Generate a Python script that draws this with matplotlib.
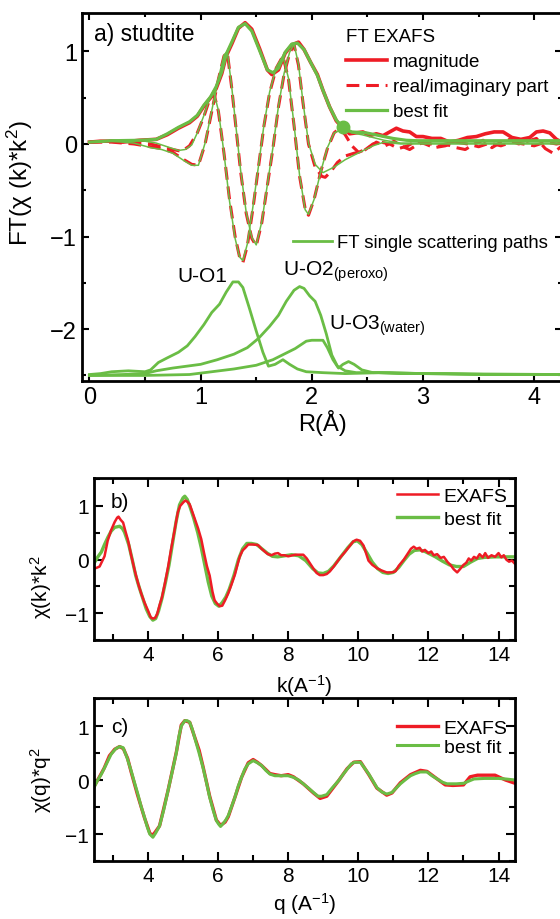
import matplotlib
matplotlib.use("Agg")
import matplotlib.pyplot as plt
from matplotlib.lines import Line2D
from matplotlib.ticker import MultipleLocator

plt.rcParams['font.family'] = ['Liberation Sans', 'DejaVu Sans']
plt.rcParams['mathtext.fontset'] = 'custom'
plt.rcParams['mathtext.rm'] = 'Liberation Sans'
plt.rcParams['mathtext.it'] = 'Liberation Sans:italic'

RED = '#ee1c25'
GREEN = '#6abd45'

# ---- panel a: FT EXAFS (R in Angstrom) ----
mag_data = [(0.0, 0.02), (0.1, 0.03), (0.2, 0.03), (0.3, 0.02), (0.45, 0.04), (0.6, 0.05),
            (0.7, 0.10), (0.8, 0.17), (0.9, 0.23), (0.97, 0.30), (1.03, 0.41), (1.09, 0.50),
            (1.14, 0.60), (1.19, 0.76), (1.23, 0.95), (1.28, 1.08), (1.34, 1.25), (1.40, 1.31),
            (1.46, 1.24), (1.53, 1.03), (1.60, 0.80), (1.64, 0.75), (1.70, 0.80), (1.76, 0.98),
            (1.82, 1.07), (1.88, 1.10), (1.93, 1.02), (1.99, 0.88), (2.05, 0.75), (2.10, 0.58),
            (2.16, 0.40), (2.22, 0.25), (2.28, 0.17), (2.34, 0.11), (2.40, 0.12), (2.46, 0.13),
            (2.52, 0.09), (2.58, 0.11), (2.64, 0.09), (2.70, 0.13), (2.76, 0.17), (2.82, 0.14),
            (2.88, 0.13), (2.94, 0.08), (3.00, 0.08), (3.08, 0.06), (3.16, 0.06), (3.24, 0.02),
            (3.32, 0.04), (3.40, 0.07), (3.48, 0.08), (3.56, 0.11), (3.64, 0.13), (3.72, 0.13),
            (3.80, 0.07), (3.88, 0.05), (3.96, 0.07), (4.02, 0.13), (4.08, 0.14), (4.14, 0.12),
            (4.20, 0.05), (4.25, 0.02)]
mag_fit = [(0.0, 0.02), (0.2, 0.035), (0.45, 0.04), (0.6, 0.05), (0.7, 0.11), (0.8, 0.18),
           (0.9, 0.24), (0.97, 0.31), (1.03, 0.42), (1.09, 0.51), (1.14, 0.62), (1.19, 0.78),
           (1.23, 0.97), (1.28, 1.10), (1.34, 1.26), (1.40, 1.30), (1.46, 1.22), (1.53, 1.01),
           (1.60, 0.80), (1.65, 0.77), (1.70, 0.82), (1.76, 0.99), (1.82, 1.08), (1.87, 1.09),
           (1.93, 1.02), (1.99, 0.88), (2.05, 0.74), (2.10, 0.58), (2.16, 0.40), (2.22, 0.26),
           (2.28, 0.17), (2.36, 0.13), (2.49, 0.12), (2.61, 0.09), (2.73, 0.06), (2.85, 0.04),
           (2.95, 0.035), (4.25, 0.035)]

# real / imaginary parts (data, red dashed) and their fits (thin green)
re_data = [(0.0, 0.02), (0.2, 0.03), (0.4, 0.02), (0.55, 0.0), (0.65, -0.03), (0.75, -0.06),
           (0.83, -0.08), (0.90, -0.02), (0.97, 0.12), (1.03, 0.30), (1.08, 0.48), (1.12, 0.54),
           (1.16, 0.35), (1.21, -0.10), (1.26, -0.60), (1.31, -1.00), (1.35, -1.22), (1.38, -1.28),
           (1.42, -1.10), (1.47, -0.70), (1.52, -0.25), (1.57, 0.20), (1.62, 0.55), (1.68, 0.82),
           (1.74, 0.95), (1.79, 0.70), (1.84, 0.20), (1.89, -0.35), (1.94, -0.70), (1.97, -0.77),
           (2.02, -0.60), (2.08, -0.30), (2.14, -0.05), (2.20, 0.12), (2.25, 0.17), (2.30, 0.10),
           (2.36, -0.02), (2.42, -0.09), (2.50, -0.05), (2.58, 0.02), (2.66, -0.02), (2.74, 0.03),
           (2.82, -0.03), (2.88, -0.06), (2.96, 0.0), (3.04, 0.02), (3.12, -0.03), (3.20, 0.0),
           (3.30, -0.04), (3.38, -0.06), (3.46, 0.0), (3.54, 0.04), (3.62, -0.04), (3.70, 0.02),
           (3.78, 0.05), (3.86, 0.0), (3.94, 0.03), (4.02, 0.06), (4.10, -0.05), (4.17, -0.10),
           (4.25, -0.02)]
re_fit = [(0.0, 0.02), (0.2, 0.04), (0.45, 0.04), (0.6, 0.01), (0.70, -0.03), (0.80, -0.07),
          (0.86, -0.06), (0.92, -0.01), (0.97, 0.12), (1.03, 0.31), (1.08, 0.49), (1.12, 0.55),
          (1.16, 0.36), (1.21, -0.10), (1.26, -0.62), (1.31, -1.02), (1.35, -1.22), (1.38, -1.26),
          (1.42, -1.08), (1.47, -0.68), (1.52, -0.24), (1.57, 0.21), (1.62, 0.56), (1.68, 0.83),
          (1.74, 0.95), (1.79, 0.71), (1.84, 0.21), (1.89, -0.34), (1.94, -0.71), (1.97, -0.76),
          (2.02, -0.60), (2.08, -0.30), (2.14, -0.04), (2.20, 0.12), (2.28, 0.16), (2.36, 0.12),
          (2.45, 0.10), (2.55, 0.07), (2.65, 0.04), (2.80, 0.01), (4.25, 0.01)]
im_data = [(0.0, 0.02), (0.2, 0.02), (0.4, 0.0), (0.55, -0.03), (0.65, -0.05), (0.75, -0.09),
           (0.85, -0.17), (0.92, -0.22), (0.98, -0.23), (1.04, 0.0), (1.10, 0.35), (1.16, 0.70),
           (1.21, 0.95), (1.24, 0.99), (1.28, 0.60), (1.32, 0.15), (1.36, -0.30), (1.41, -0.75),
           (1.46, -1.02), (1.50, -1.10), (1.55, -0.85), (1.60, -0.45), (1.65, -0.05), (1.70, 0.40),
           (1.75, 0.75), (1.80, 0.98), (1.84, 1.07), (1.88, 0.85), (1.92, 0.45), (1.97, 0.0),
           (2.03, -0.25), (2.09, -0.35), (2.12, -0.36), (2.17, -0.30), (2.23, -0.20), (2.30, -0.13),
           (2.38, -0.10), (2.46, -0.08), (2.55, 0.0), (2.62, 0.02), (2.70, 0.0), (2.78, -0.05),
           (2.86, -0.02), (2.94, 0.03), (3.02, 0.0), (3.10, -0.04), (3.20, -0.02), (3.30, 0.02),
           (3.40, 0.0), (3.50, -0.03), (3.60, 0.01), (3.70, -0.02), (3.80, 0.02), (3.90, 0.0),
           (4.00, -0.02), (4.10, 0.02), (4.20, 0.0), (4.25, 0.01)]
im_fit = [(0.0, 0.02), (0.2, 0.03), (0.4, 0.01), (0.55, -0.04), (0.65, -0.06), (0.75, -0.10),
          (0.85, -0.18), (0.92, -0.23), (0.98, -0.23), (1.04, 0.01), (1.10, 0.36), (1.16, 0.71),
          (1.21, 0.96), (1.24, 1.00), (1.28, 0.61), (1.32, 0.16), (1.36, -0.29), (1.41, -0.74),
          (1.46, -1.01), (1.50, -1.09), (1.55, -0.84), (1.60, -0.44), (1.65, -0.04), (1.70, 0.41),
          (1.75, 0.76), (1.80, 0.99), (1.84, 1.08), (1.88, 0.86), (1.92, 0.46), (1.97, 0.01),
          (2.03, -0.22), (2.10, -0.31), (2.20, -0.25), (2.30, -0.17), (2.43, -0.09), (2.55, -0.02),
          (2.65, 0.02), (2.80, 0.0), (4.25, 0.0)]
dot_r = [2.28]
dot_y = [0.18]

# single scattering paths (drawn with the -2.5 offset used in the figure)
path_o1 = [(0.0, -2.49), (0.1, -2.48), (0.2, -2.46), (0.35, -2.45), (0.5, -2.46), (0.55, -2.44),
           (0.62, -2.36), (0.7, -2.31), (0.8, -2.25), (0.88, -2.18), (0.95, -2.08), (1.03, -1.95),
           (1.10, -1.82), (1.17, -1.73), (1.23, -1.60), (1.29, -1.49), (1.34, -1.49), (1.38, -1.55),
           (1.44, -1.78), (1.50, -2.02), (1.56, -2.25), (1.61, -2.40), (1.67, -2.38), (1.74, -2.33),
           (1.80, -2.38), (1.87, -2.43), (1.95, -2.46), (2.10, -2.47), (2.30, -2.48), (2.60, -2.47),
           (2.80, -2.48), (3.20, -2.48), (3.60, -2.49), (4.25, -2.49)]
path_o2 = [(0.0, -2.50), (0.3, -2.49), (0.5, -2.48), (0.6, -2.45), (0.75, -2.42), (1.0, -2.38),
           (1.15, -2.33), (1.30, -2.27), (1.42, -2.20), (1.52, -2.10), (1.62, -1.97), (1.70, -1.85),
           (1.77, -1.70), (1.84, -1.58), (1.89, -1.54), (1.93, -1.56), (1.98, -1.64), (2.03, -1.70),
           (2.08, -1.85), (2.13, -2.05), (2.18, -2.28), (2.23, -2.40), (2.30, -2.45), (2.40, -2.47),
           (2.60, -2.47), (3.0, -2.48), (4.25, -2.49)]
path_o3 = [(0.0, -2.50), (0.5, -2.50), (0.9, -2.49), (1.1, -2.46), (1.3, -2.43), (1.5, -2.39),
           (1.65, -2.33), (1.75, -2.27), (1.85, -2.21), (1.95, -2.13), (2.0, -2.12), (2.1, -2.12),
           (2.14, -2.20), (2.19, -2.33), (2.24, -2.42), (2.28, -2.38), (2.33, -2.35), (2.38, -2.38),
           (2.45, -2.44), (2.55, -2.47), (2.7, -2.47), (3.0, -2.48), (3.5, -2.49), (4.25, -2.49)]

# ---- panel b: chi(k)*k^2 ----
k_exafs = [(2.46, -0.17), (2.55, -0.15), (2.62, -0.13), (2.70, -0.02), (2.76, 0.06), (2.85, 0.35),
           (2.95, 0.55), (3.05, 0.70), (3.12, 0.78), (3.16, 0.80), (3.22, 0.74), (3.29, 0.69),
           (3.36, 0.52), (3.43, 0.36), (3.52, 0.08), (3.62, -0.20), (3.72, -0.45), (3.81, -0.64),
           (3.90, -0.80), (4.00, -0.95), (4.08, -1.08), (4.14, -1.10), (4.20, -1.09), (4.26, -1.02),
           (4.33, -0.85), (4.40, -0.70), (4.48, -0.45), (4.57, -0.15), (4.66, 0.20), (4.76, 0.55),
           (4.85, 0.88), (4.92, 1.00), (5.00, 1.06), (5.06, 1.10), (5.12, 1.08), (5.19, 1.03),
           (5.26, 0.90), (5.33, 0.77), (5.43, 0.58), (5.52, 0.38), (5.60, 0.12), (5.68, -0.12),
           (5.76, -0.30), (5.84, -0.60), (5.90, -0.76), (5.97, -0.82), (6.05, -0.87), (6.12, -0.86),
           (6.20, -0.76), (6.29, -0.63), (6.38, -0.47), (6.48, -0.28), (6.56, -0.08), (6.62, 0.06),
           (6.70, 0.17), (6.78, 0.22), (6.86, 0.28), (7.00, 0.28), (7.14, 0.27), (7.24, 0.20),
           (7.33, 0.15), (7.42, 0.10), (7.52, 0.08), (7.62, 0.11), (7.71, 0.12), (7.80, 0.08),
           (7.90, 0.08), (8.00, 0.06), (8.20, 0.09), (8.43, 0.09), (8.53, 0.02), (8.62, -0.07),
           (8.72, -0.17), (8.81, -0.25), (8.90, -0.29), (9.00, -0.29), (9.10, -0.27), (9.19, -0.22),
           (9.30, -0.13), (9.39, -0.05), (9.50, 0.05), (9.62, 0.14), (9.75, 0.25), (9.86, 0.34),
           (9.95, 0.37), (10.05, 0.35), (10.15, 0.26), (10.22, 0.12), (10.29, -0.02), (10.40, -0.10),
           (10.53, -0.16), (10.65, -0.20), (10.81, -0.24), (10.95, -0.24), (11.06, -0.22),
           (11.15, -0.12), (11.30, 0.0), (11.42, 0.12), (11.50, 0.20), (11.58, 0.24), (11.66, 0.20),
           (11.75, 0.22), (11.82, 0.15), (11.90, 0.18), (12.00, 0.12), (12.08, 0.15), (12.15, 0.08),
           (12.25, 0.10), (12.35, 0.03), (12.44, 0.05), (12.55, -0.05), (12.63, -0.10), (12.72, -0.18),
           (12.82, -0.24), (12.90, -0.18), (13.00, -0.10), (13.08, -0.06), (13.15, 0.02), (13.22, -0.02),
           (13.30, 0.05), (13.38, 0.02), (13.46, 0.10), (13.55, 0.04), (13.62, 0.12), (13.70, 0.03),
           (13.80, 0.08), (13.90, 0.05), (14.00, 0.12), (14.08, 0.04), (14.15, 0.08), (14.22, 0.0),
           (14.30, -0.04), (14.38, -0.02), (14.47, -0.08)]
k_fit = [(2.46, -0.07), (2.57, 0.05), (2.67, 0.14), (2.76, 0.28), (2.86, 0.42), (2.95, 0.53),
         (3.05, 0.60), (3.19, 0.62), (3.27, 0.58), (3.33, 0.51), (3.45, 0.28), (3.55, 0.0),
         (3.65, -0.30), (3.75, -0.52), (3.85, -0.72), (3.95, -0.92), (4.05, -1.06), (4.14, -1.13),
         (4.22, -1.10), (4.30, -0.96), (4.40, -0.72), (4.50, -0.42), (4.60, -0.10), (4.70, 0.30),
         (4.80, 0.70), (4.90, 1.02), (5.00, 1.15), (5.05, 1.18), (5.12, 1.12), (5.20, 0.98),
         (5.30, 0.78), (5.42, 0.50), (5.52, 0.22), (5.62, -0.10), (5.72, -0.42), (5.82, -0.68),
         (5.92, -0.82), (6.02, -0.87), (6.12, -0.80), (6.22, -0.70), (6.32, -0.55), (6.45, -0.30),
         (6.58, 0.0), (6.70, 0.20), (6.82, 0.30), (6.95, 0.30), (7.10, 0.28), (7.25, 0.20),
         (7.40, 0.12), (7.55, 0.06), (7.70, 0.05), (7.90, 0.07), (8.10, 0.09), (8.30, 0.07),
         (8.50, -0.02), (8.70, -0.17), (8.85, -0.25), (9.00, -0.26), (9.15, -0.22), (9.30, -0.12),
         (9.50, 0.05), (9.70, 0.22), (9.85, 0.33), (9.97, 0.35), (10.10, 0.28), (10.25, 0.12),
         (10.40, -0.05), (10.55, -0.17), (10.70, -0.24), (10.85, -0.26), (11.00, -0.24),
         (11.15, -0.15), (11.30, -0.02), (11.45, 0.10), (11.60, 0.17), (11.75, 0.18), (11.90, 0.15),
         (12.05, 0.10), (12.20, 0.05), (12.40, -0.03), (12.60, -0.10), (12.80, -0.13), (13.00, -0.13),
         (13.20, -0.05), (13.40, 0.02), (13.60, 0.04), (13.90, 0.05), (14.20, 0.05), (14.47, 0.05)]

# ---- panel c: chi(q)*q^2 ----
q_exafs = [(2.46, -0.12), (2.60, 0.04), (2.75, 0.22), (2.90, 0.45), (3.05, 0.57), (3.19, 0.62),
           (3.30, 0.58), (3.42, 0.40), (3.52, 0.15), (3.70, -0.27), (3.90, -0.70), (4.05, -0.98),
           (4.12, -1.03), (4.20, -0.97), (4.33, -0.85), (4.57, -0.20), (4.81, 0.52), (4.95, 1.02),
           (5.05, 1.10), (5.19, 1.07), (5.33, 0.80), (5.46, 0.55), (5.57, 0.25), (5.76, -0.30),
           (5.95, -0.74), (6.07, -0.84), (6.20, -0.78), (6.29, -0.68), (6.48, -0.32), (6.67, 0.05),
           (6.86, 0.32), (7.00, 0.38), (7.12, 0.33), (7.24, 0.27), (7.48, 0.12), (7.62, 0.10),
           (7.80, 0.08), (8.00, 0.10), (8.15, 0.06), (8.43, -0.07), (8.72, -0.24), (8.91, -0.34),
           (9.10, -0.30), (9.44, -0.01), (9.68, 0.21), (9.87, 0.33), (10.06, 0.34), (10.30, 0.10),
           (10.53, -0.15), (10.81, -0.28), (10.96, -0.24), (11.20, -0.05), (11.49, 0.10),
           (11.77, 0.18), (11.96, 0.16), (12.25, 0.02), (12.48, -0.09), (12.70, -0.10), (13.00, -0.09),
           (13.19, 0.06), (13.40, 0.09), (13.90, 0.09), (14.20, 0.0), (14.47, -0.06)]
q_fit = [(2.46, -0.14), (2.55, -0.02), (2.67, 0.11), (2.80, 0.28), (2.95, 0.48), (3.08, 0.58),
         (3.19, 0.62), (3.29, 0.60), (3.40, 0.42), (3.52, 0.17), (3.62, -0.06), (3.71, -0.26),
         (3.80, -0.48), (3.90, -0.69), (3.98, -0.87), (4.05, -1.00), (4.14, -1.06), (4.22, -0.98),
         (4.33, -0.85), (4.45, -0.55), (4.57, -0.20), (4.70, 0.18), (4.81, 0.51), (4.88, 0.80),
         (4.95, 1.00), (5.05, 1.10), (5.12, 1.10), (5.19, 1.07), (5.26, 0.95), (5.33, 0.79),
         (5.45, 0.52), (5.57, 0.23), (5.67, -0.05), (5.76, -0.32), (5.86, -0.56), (5.95, -0.75),
         (6.02, -0.82), (6.07, -0.86), (6.15, -0.80), (6.22, -0.74), (6.29, -0.66), (6.38, -0.50),
         (6.48, -0.32), (6.57, -0.12), (6.67, 0.05), (6.76, 0.20), (6.86, 0.30), (7.00, 0.36),
         (7.12, 0.32), (7.24, 0.27), (7.36, 0.18), (7.48, 0.11), (7.62, 0.08), (7.80, 0.08),
         (8.00, 0.08), (8.15, 0.05), (8.30, 0.0), (8.43, -0.07), (8.58, -0.15), (8.72, -0.23),
         (8.85, -0.30), (8.95, -0.30), (9.10, -0.27), (9.25, -0.15), (9.44, -0.01), (9.56, 0.10),
         (9.68, 0.20), (9.80, 0.30), (9.90, 0.33), (10.06, 0.33), (10.18, 0.22), (10.30, 0.11),
         (10.42, -0.02), (10.53, -0.14), (10.67, -0.22), (10.81, -0.26), (10.96, -0.23),
         (11.08, -0.15), (11.20, -0.07), (11.35, 0.01), (11.49, 0.08), (11.63, 0.12), (11.77, 0.15),
         (11.96, 0.15), (12.10, 0.08), (12.25, 0.02), (12.40, -0.04), (12.53, -0.07), (12.80, -0.07),
         (13.01, -0.06), (13.15, -0.02), (13.30, 0.02), (13.60, 0.03), (14.00, 0.03), (14.20, 0.02),
         (14.47, 0.0)]


def xy(pts):
    return [p[0] for p in pts], [p[1] for p in pts]


def style_axes(ax, major, minor, xmaj, xmin, ymaj, ymin):
    ax.xaxis.set_major_locator(MultipleLocator(xmaj))
    ax.xaxis.set_minor_locator(MultipleLocator(xmin))
    ax.yaxis.set_major_locator(MultipleLocator(ymaj))
    ax.yaxis.set_minor_locator(MultipleLocator(ymin))
    ax.tick_params(which='both', direction='in', top=True, right=True, width=1.5)
    ax.tick_params(which='major', length=major)
    ax.tick_params(which='minor', length=minor)
    for s in ax.spines.values():
        s.set_linewidth(2.0)


W, H = 560, 920
fig = plt.figure(figsize=(W / 100, H / 100), dpi=100)

# panel a
ax1 = fig.add_axes([82 / W, 1 - 382 / H, 480 / W, 368.5 / H])
ax1.plot(*xy(mag_data), color=RED, lw=2.6)
ax1.plot(*xy(re_data), color=RED, lw=2.2, ls=(0, (4.2, 2.2)))
ax1.plot(*xy(im_data), color=RED, lw=2.2, ls=(0, (4.2, 2.2)))
ax1.plot(*xy(re_fit), color=GREEN, lw=1.1)
ax1.plot(*xy(im_fit), color=GREEN, lw=1.1)
ax1.plot(*xy(mag_fit), color=GREEN, lw=2.3)
ax1.plot(dot_r, dot_y, 'o', color=GREEN, ms=9)
for p in (path_o1, path_o2, path_o3):
    ax1.plot(*xy(p), color=GREEN, lw=2.0)
ax1.set_xlim(-0.067, 4.25)
ax1.set_ylim(-2.56, 1.42)
style_axes(ax1, 5, 3, 1, 0.5, 1, 0.5)
ax1.tick_params(labelsize=17)
ax1.set_xlabel('R(Å)', fontsize=17, labelpad=1)
ax1.set_ylabel('FT(χ (k)*k$^2$)', fontsize=17.5)
ax1.yaxis.set_label_coords(-0.097, 0.54)
ax1.text(0.025, 0.944, 'a) studtite', transform=ax1.transAxes, fontsize=16.5, va='center')
ax1.text(0.79, -1.48, 'U-O1', fontsize=15)
ax1.text(1.74, -1.41, 'U-O2$_{\\mathrm{(peroxo)}}$', fontsize=15)
ax1.text(2.15, -2.0, 'U-O3$_{\\mathrm{(water)}}$', fontsize=15)

h1 = [Line2D([], [], color=RED, lw=2.6),
      Line2D([], [], color=RED, lw=2.2, ls=(0, (4.2, 2.2))),
      Line2D([], [], color=GREEN, lw=2.3)]
leg1 = ax1.legend(h1, ['magnitude', 'real/imaginary part', 'best fit'], title='FT EXAFS',
                  loc='upper left', bbox_to_anchor=(346 / W, 1 - 29 / H),
                  bbox_transform=fig.transFigure, frameon=False, fontsize=13.5,
                  title_fontsize=13.5, alignment='left', borderpad=0, borderaxespad=0,
                  handlelength=2.2, handletextpad=0.3, labelspacing=0.42)
leg1._legend_box.sep = 6
ax1.add_artist(leg1)
ax1.legend([Line2D([], [], color=GREEN, lw=2.0)], ['FT single scattering paths'],
           loc='center left', bbox_to_anchor=(293 / W, 1 - 244 / H),
           bbox_transform=fig.transFigure, frameon=False, fontsize=13.3,
           borderpad=0, borderaxespad=0, handlelength=2.1, handletextpad=0.3)

# panel b
ax2 = fig.add_axes([94 / W, 1 - 641 / H, 421 / W, 162 / H])
ax2.plot(*xy(k_fit), color=GREEN, lw=2.4, label='best fit')
ax2.plot(*xy(k_exafs), color=RED, lw=1.8, label='EXAFS')
ax2.set_xlim(2.46, 14.47)
ax2.set_ylim(-1.5, 1.52)
style_axes(ax2, 6.5, 4, 2, 1, 1, 0.5)
ax2.tick_params(labelsize=15)
ax2.set_xlabel('k(A$^{-1}$)', fontsize=15, labelpad=6)
ax2.set_ylabel('χ(k)*k$^2$', fontsize=15)
ax2.yaxis.set_label_coords(-0.095, 0.33)
ax2.text(0.04, 0.858, 'b)', transform=ax2.transAxes, fontsize=15, va='center')
hb, lb = ax2.get_legend_handles_labels()
ax2.legend(hb[::-1], lb[::-1], loc='upper left', bbox_to_anchor=(397 / W, 1 - 488 / H),
           bbox_transform=fig.transFigure, frameon=False, fontsize=14, borderpad=0,
           borderaxespad=0, handlelength=2.1, handletextpad=0.3, labelspacing=0.3)

# panel c
ax3 = fig.add_axes([94 / W, 1 - 862 / H, 421 / W, 163 / H])
ax3.plot(*xy(q_exafs), color=RED, lw=2.4, label='EXAFS')
ax3.plot(*xy(q_fit), color=GREEN, lw=2.2, label='best fit')
ax3.set_xlim(2.46, 14.47)
ax3.set_ylim(-1.5, 1.52)
style_axes(ax3, 6.5, 4, 2, 1, 1, 0.5)
ax3.tick_params(labelsize=15)
ax3.set_xlabel('q (A$^{-1}$)', fontsize=15, labelpad=4)
ax3.set_ylabel('χ(q)*q$^2$', fontsize=15)
ax3.yaxis.set_label_coords(-0.095, 0.5)
ax3.text(0.04, 0.828, 'c)', transform=ax3.transAxes, fontsize=15, va='center')
ax3.legend(loc='upper left', bbox_to_anchor=(397 / W, 1 - 720 / H),
           bbox_transform=fig.transFigure, frameon=False, fontsize=14, borderpad=0,
           borderaxespad=0, handlelength=2.1, handletextpad=0.3, labelspacing=0.1)

fig.savefig('out.png', dpi=100)
